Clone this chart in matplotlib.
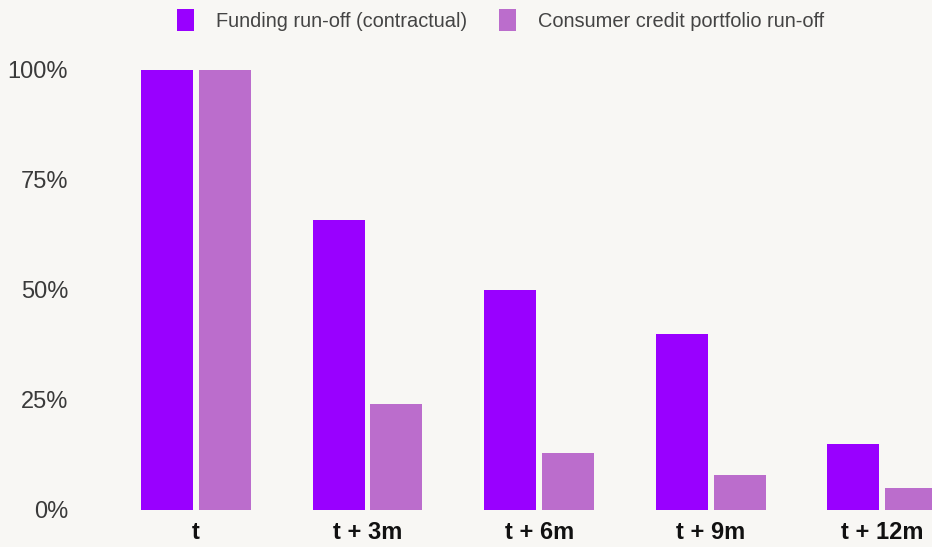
import matplotlib
import matplotlib.pyplot as plt
import numpy as np
matplotlib.use('Agg')

# run-off profile, share of starting balance (%)
periods = ['t', 't + 3m', 't + 6m', 't + 9m', 't + 12m']
funding = [100, 66, 50, 40, 15]
consumer = [100, 24, 13, 8, 5]
yticks = [0, 25, 50, 75, 100]

plt.rcParams['font.family'] = ['Liberation Sans', 'DejaVu Sans']

bg = '#f8f7f4'
fig = plt.figure(figsize=(9.32, 5.47), dpi=100, facecolor=bg)
ax = fig.add_axes([100 / 932, 37 / 547, 832 / 932, 462 / 547])
ax.set_facecolor(bg)

x = np.arange(len(periods))
w = 0.303
off = 0.168
ax.bar(x - off, funding, w, color='#9900ff', label='Funding run-off (contractual)')
ax.bar(x + off, consumer, w, color='#bb6dcc', label='Consumer credit portfolio run-off')

ax.set_xlim(-0.56, 4.29)
ax.set_ylim(0, 105)
ax.set_yticks(yticks)
ax.set_yticklabels([f'{v}%' for v in yticks], fontsize=17, color='#3a3a3a')
ax.set_xticks(x)
ax.set_xticklabels(periods, fontsize=17, fontweight='bold', color='#111111')
ax.tick_params(axis='y', length=0, pad=23)
ax.tick_params(axis='x', length=0, pad=8)
for s in ax.spines.values():
    s.set_visible(False)

fig.legend(loc='center', bbox_to_anchor=(0.537, 0.963), ncol=2, frameon=False,
           fontsize=14.4, handlelength=0.85, handleheight=1.3, handletextpad=1.1,
           columnspacing=1.6, labelcolor='#444444')

fig.savefig('out.png', dpi=100, facecolor=bg)
